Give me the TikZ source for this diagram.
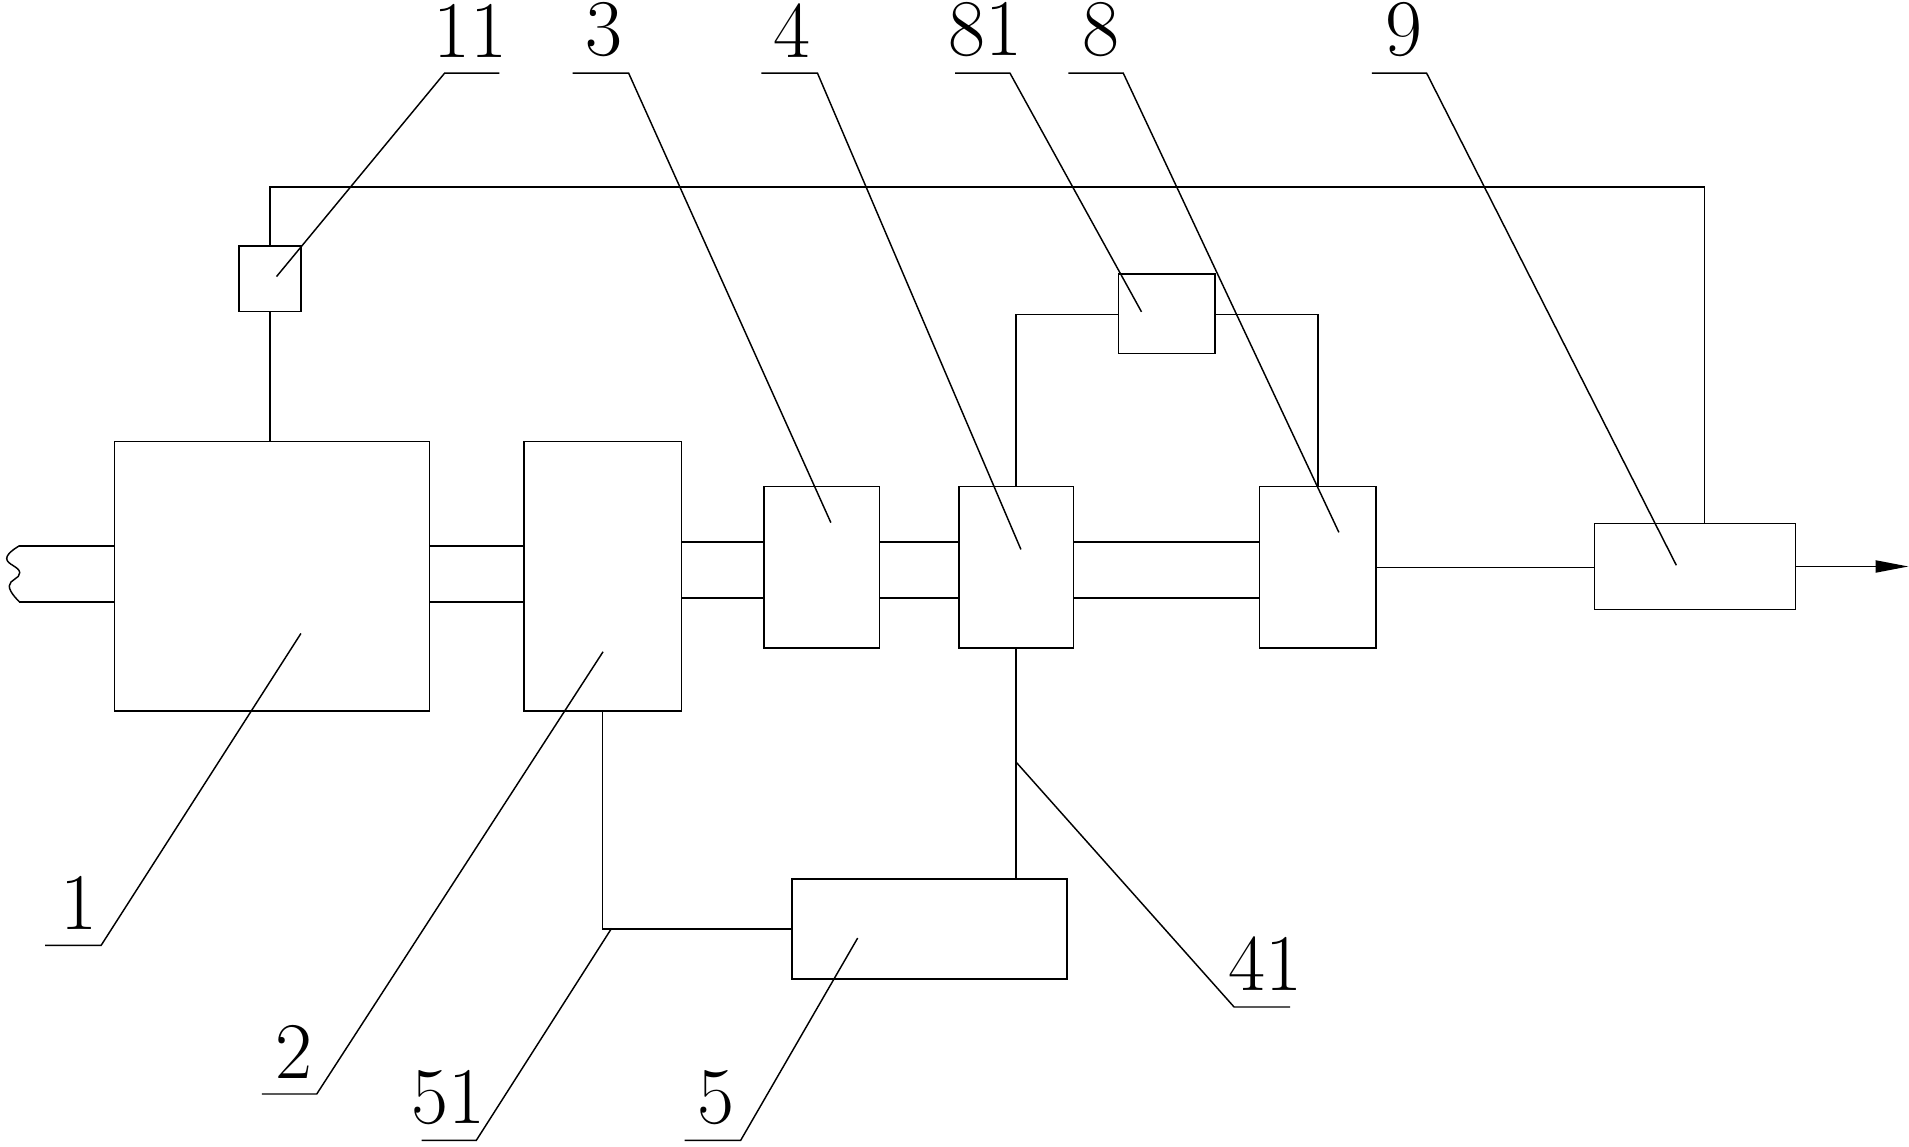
\documentclass[tikz,border=0pt]{standalone}
\usepackage{fontspec}
\usetikzlibrary{fit}
\usetikzlibrary{arrows.meta}

\begin{document}
\begin{tikzpicture}[
    x=0.5pt, y=-0.5pt, line width=0.6pt,
    BOX/.style={rectangle, draw=black, inner sep=0pt},
    TAG/.style={anchor=south, inner sep=0pt, font=\fontsize{33}{36}\selectfont},
    ]
        \useasboundingbox (0,0) rectangle (1567,941);

        \node[BOX, fit={(94,362.5) (352.5,583.5)}] (U1) {};
        \node[BOX, fit={(430,362.5) (559.5,583.5)}] (U2) {};
        \node[BOX, fit={(627,399.5) (722,532)}] (U3) {};
        \node[BOX, fit={(787,399.5) (881,532)}] (U4) {};
        \node[BOX, fit={(1034,399.5) (1129.5,532)}] (U8) {};
        \node[BOX, fit={(1309,429.5) (1474,500.5)}] (U9) {};
        \node[BOX, fit={(650,721.5) (876,803.5)}] (U5) {};
        \node[BOX, fit={(196,202) (247,255.5)}] (U11) {};
        \node[BOX, fit={(918,225) (997.5,290)}] (U81) {};

        \coordinate (w1) at (16,448);
        \coordinate (w2) at (16,494);
        \coordinate (s1) at (0,445);
        \coordinate (s2) at (0,491);
        \coordinate (top) at (1399,153.6);
        \coordinate (br) at (0,258);
        \coordinate (out) at (1566.5,465);

        \draw plot[smooth, tension=0.8] coordinates {(w1) (5.5,458.5) (16.2,470) (7.6,481) (w2)};
        \draw (w1) -- (w1 -| U1.west);
        \draw (w2) -- (w2 -| U1.west);
        \draw (U1.east |- w1) -- (U2.west |- w1);
        \draw (U1.east |- w2) -- (U2.west |- w2);
        \draw (U2.east |- s1) -- (U3.west |- s1);
        \draw (U2.east |- s2) -- (U3.west |- s2);
        \draw (U3.east |- s1) -- (U4.west |- s1);
        \draw (U3.east |- s2) -- (U4.west |- s2);
        \draw (U4.east |- s1) -- (U8.west |- s1);
        \draw (U4.east |- s2) -- (U8.west |- s2);
        \draw (U8.east) -- (U8.east -| U9.west);
        \draw[-{Triangle[length=13.5pt, width=5pt]}] (U9.east) -- (out);

        \draw (U11.south) -- (U11.south |- U1.north);
        \draw (U11.north) -- (U11.north |- top) -- (top) -- (top |- U9.north);
        \draw (U4.north) -- (U4.north |- br) -- (U81.west |- br);
        \draw (U81.east |- br) -- (U8.north |- br) -- (U8.north);
        \draw (U4.south) -- (U4.south |- U5.north);
        \draw (U2.south) -- (U2.south |- U5.west) -- (U5.west);

        \node[TAG] (T11) at (386,47.5) {11};
        \node[TAG] (T3) at (496,47.5) {3};
        \node[TAG] (T4) at (650,47.5) {4};
        \node[TAG] (T81) at (809,47.5) {81};
        \node[TAG] (T8) at (904,47.5) {8};
        \node[TAG] (T9) at (1152.5,47.5) {9};
        \node[TAG] (T1) at (65,763.5) {1};
        \node[TAG] (T2) at (241.5,885.5) {2};
        \node[TAG] (T51) at (368,923.5) {51};
        \node[TAG] (T5) at (588,923.5) {5};
        \node[TAG] (T41) at (1038.5,814) {41};

        \coordinate (k11) at (365,60);     \coordinate (p11) at (227,227);
        \coordinate (k3) at (516,60);      \coordinate (p3) at (682,429);
        \coordinate (k4) at (671,60);      \coordinate (p4) at (838,451);
        \coordinate (k81) at (829,60);     \coordinate (p81) at (937,256);
        \coordinate (k8) at (922,60);      \coordinate (p8) at (1099,437);
        \coordinate (k9) at (1171,60);     \coordinate (p9) at (1376,464);
        \coordinate (k1) at (83,776);      \coordinate (p1) at (247,520);
        \coordinate (k2) at (260,898);     \coordinate (p2) at (495,535);
        \coordinate (k51) at (391,936);    \coordinate (p51) at (502,762);
        \coordinate (k5) at (608,936);     \coordinate (p5) at (704,770);
        \coordinate (k41) at (1013,826.6); \coordinate (p41) at (834,625.5);

        \draw (p11) -- (k11) -- ++(45,0);
        \draw (p3) -- (k3) -- ++(-46,0);
        \draw (p4) -- (k4) -- ++(-46,0);
        \draw (p81) -- (k81) -- ++(-45,0);
        \draw (p8) -- (k8) -- ++(-45,0);
        \draw (p9) -- (k9) -- ++(-45,0);
        \draw (p1) -- (k1) -- ++(-46,0);
        \draw (p2) -- (k2) -- ++(-45,0);
        \draw (p51) -- (k51) -- ++(-45,0);
        \draw (p5) -- (k5) -- ++(-46,0);
        \draw (p41) -- (k41) -- ++(46,0);
    \end{tikzpicture}
\end{document}
